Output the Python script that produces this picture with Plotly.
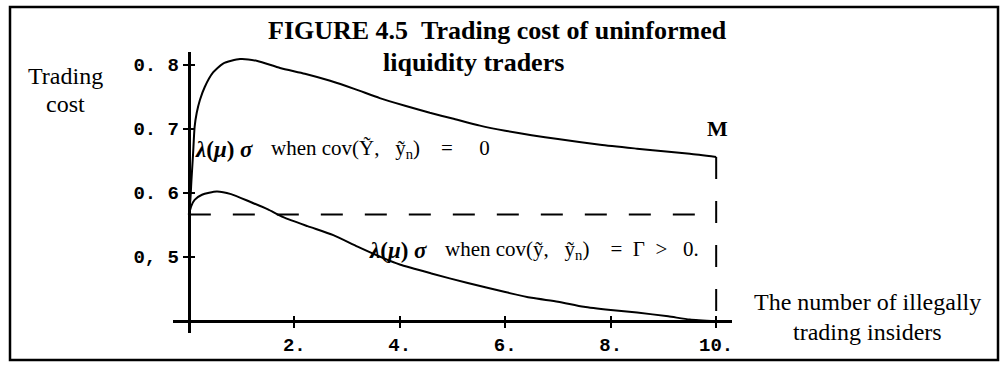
import plotly.graph_objects as go

# Number of illegally trading insiders (x) and trading cost of the uninformed traders
x_upper = [0, 0.03, 0.05, 0.08, 0.11, 0.15, 0.21, 0.3, 0.46, 0.65, 0.97, 1.3, 1.73, 2.2,
           2.68, 3.15, 3.62, 4.1, 4.57, 5.0, 5.52, 6.0, 6.5, 7.0, 7.8, 8.5, 9.0, 9.5, 10]
cost_upper = [0.566, 0.59, 0.62, 0.66, 0.703, 0.725, 0.745, 0.765, 0.788, 0.802, 0.809,
              0.806, 0.795, 0.786, 0.775, 0.762, 0.748, 0.736, 0.725, 0.716, 0.705, 0.697,
              0.690, 0.684, 0.675, 0.669, 0.665, 0.661, 0.656]

x_lower = [0, 0.05, 0.11, 0.25, 0.53, 0.8, 1.16, 1.5, 1.79, 2.25, 2.74, 3.2, 3.69, 4.0,
           4.6, 5.29, 6.0, 6.5, 7.0, 7.49, 8.0, 8.5, 9.09, 9.5, 10]
cost_lower = [0.566, 0.58, 0.589, 0.597, 0.602, 0.598, 0.586, 0.574, 0.562, 0.548, 0.534,
              0.516, 0.498, 0.488, 0.474, 0.459, 0.445, 0.436, 0.430, 0.422, 0.417, 0.413,
              0.407, 0.402, 0.399]

benchmark_cost = 0.566      # dashed reference level
m_insiders = 10             # M

x_ticks = [2, 4, 6, 8, 10]
x_tick_text = ["2.", "4.", "6.", "8.", "10."]
y_ticks = [0.5, 0.6, 0.7, 0.8]
y_tick_text = ["0, 5", "0. 6", "0. 7", "0. 8"]

X_RANGE = [-0.3, 10.3]
Y_RANGE = [0.381, 0.82]
Y_ORIGIN = 0.4

# plot-area box in pixels
W_FIG, H_FIG = 1004, 370
L, R, T, B = 173, 732, 52, 333
PW, PH = R - L, B - T


def xp(px):
    return (px - L) / PW


def yp(py):
    return (B - py) / PH


serif = "Liberation Serif"
mono = "Liberation Mono"

fig = go.Figure()

line_style = dict(color="black", width=2)
fig.add_trace(go.Scatter(x=x_upper, y=cost_upper, mode="lines",
                         line=dict(shape="spline", smoothing=0.6, **line_style),
                         hoverinfo="skip"))
fig.add_trace(go.Scatter(x=x_lower, y=cost_lower, mode="lines",
                         line=dict(shape="spline", smoothing=0.6, **line_style),
                         hoverinfo="skip"))
dash = dict(color="black", width=2, dash="22px,22px")
fig.add_trace(go.Scatter(x=[0, m_insiders], y=[benchmark_cost, benchmark_cost],
                         mode="lines", line=dash, hoverinfo="skip"))
fig.add_trace(go.Scatter(x=[m_insiders, m_insiders], y=[cost_upper[-1], Y_ORIGIN],
                         mode="lines", line=dash, hoverinfo="skip"))

x_pos_y_axis = (0 - X_RANGE[0]) / (X_RANGE[1] - X_RANGE[0])
y_pos_x_axis = (Y_ORIGIN - Y_RANGE[0]) / (Y_RANGE[1] - Y_RANGE[0])

axis_common = dict(showgrid=False, zeroline=False, showline=True, linecolor="black",
                   linewidth=3, ticklen=5, tickwidth=2, tickcolor="black")

fig.update_layout(
    width=W_FIG, height=H_FIG,
    margin=dict(l=L, r=W_FIG - R, t=T, b=H_FIG - B),
    paper_bgcolor="white", plot_bgcolor="white",
    showlegend=False,
    xaxis=dict(range=X_RANGE, anchor="free", position=y_pos_x_axis,
               tickvals=x_ticks, ticktext=x_tick_text, ticks="outside",
               tickfont=dict(family=mono, size=19, color="black", weight="bold"),
               **axis_common),
    yaxis=dict(range=Y_RANGE, anchor="free", position=x_pos_y_axis,
               tickvals=y_ticks, ticktext=y_tick_text, ticks="outside",
               tickfont=dict(family=mono, size=19, color="black", weight="bold"),
               **axis_common),
    # mirrored inner halves of the tick marks so the ticks cross the axes
    xaxis2=dict(range=X_RANGE, overlaying="x", anchor="free", position=y_pos_x_axis,
                tickvals=x_ticks, ticks="inside", showticklabels=False,
                showgrid=False, zeroline=False, showline=False,
                ticklen=5, tickwidth=2, tickcolor="black"),
    yaxis2=dict(range=Y_RANGE, overlaying="y", anchor="free", position=x_pos_y_axis,
                tickvals=y_ticks, ticks="inside", showticklabels=False,
                showgrid=False, zeroline=False, showline=False,
                ticklen=5, tickwidth=2, tickcolor="black"),
)

# invisible trace to bring the secondary axes to life
fig.add_trace(go.Scatter(x=[0], y=[Y_ORIGIN], xaxis="x2", yaxis="y2", mode="markers",
                         marker=dict(opacity=0), hoverinfo="skip"))

# frame around the figure
fig.add_shape(type="rect", xref="paper", yref="paper",
              x0=xp(10), x1=xp(998), y0=yp(360), y1=yp(7),
              line=dict(color="black", width=2.5))

NB = "\u00a0"


def note(text, x, y, size, xanchor="center", bold=False, family=serif):
    fig.add_annotation(text=text, xref="paper", yref="paper", x=xp(x), y=yp(y),
                       xanchor=xanchor, yanchor="middle", showarrow=False,
                       font=dict(family=family, size=size, color="black",
                                 weight="bold" if bold else "normal"))


note("FIGURE 4.5" + NB * 2 + "Trading cost of uninformed", 497, 31, 26, bold=True)
note("liquidity traders", 473, 62, 26, bold=True)
note("Trading", 65, 76, 24)
note("cost", 65, 104, 24)
note("M", 717, 128, 22, bold=True)
note("The number of illegally", 867, 302, 24)
note("trading insiders", 867, 332, 24)

# curve labels: the λ(μ)σ symbol and the covariance condition
lam = "<i>λ</i>(<i>μ</i>)" + NB + "<i>σ</i>"
cond_up = ("when" + NB + "cov(Ỹ," + NB * 3 + "ỹ<sub>n</sub>)"
           + NB * 4 + "=" + NB * 5 + "0")
cond_low = ("when" + NB + "cov(ỹ," + NB * 3 + "ỹ<sub>n</sub>)"
            + NB * 4 + "=" + NB * 2 + "Γ" + NB * 2 + ">" + NB * 3 + "0.")
note(lam, 193, 149, 23, xanchor="left", bold=True)
note(cond_up, 269, 149, 21, xanchor="left")
note(lam, 367, 250, 23, xanchor="left", bold=True)
note(cond_low, 443, 250, 21, xanchor="left")

fig.write_html("out.html")
